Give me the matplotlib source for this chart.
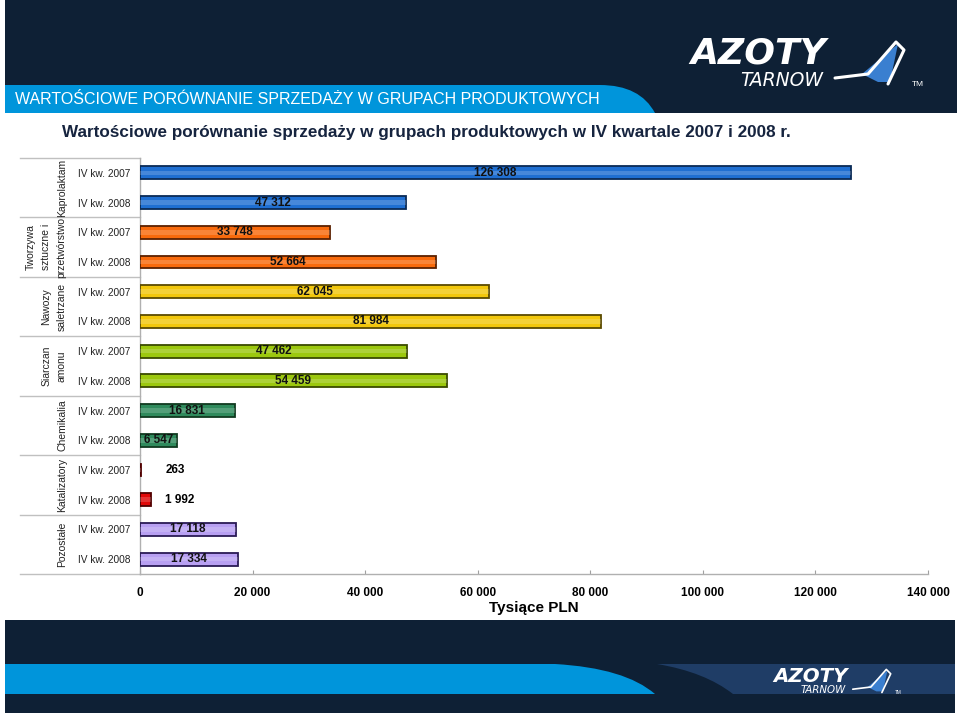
import matplotlib
matplotlib.use('Agg')
import matplotlib.pyplot as plt
import matplotlib.font_manager as fm
from matplotlib.path import Path
from matplotlib.patches import PathPatch, Rectangle, Polygon
from matplotlib.transforms import blended_transform_factory
import numpy as np


# data (tys. PLN)
groups = ['Kaprolaktam', 'Tworzywa\nsztuczne i\nprzetwórstwo', 'Nawozy\nsaletrzane',
          'Siarczan\namonu', 'Chemikalia', 'Katalizatory', 'Pozostałe']
periods = ['IV kw. 2007', 'IV kw. 2008']
values_2007 = [126308, 33748, 62045, 47462, 16831, 263, 17118]
values_2008 = [47312, 52664, 81984, 54459, 6547, 1992, 17334]
x_ticks = [0, 20000, 40000, 60000, 80000, 100000, 120000, 140000]

group_colors = ['#1f6fd2', '#f86a0c', '#f2c70c', '#9cc80e', '#2f8a5c', '#e00808', '#b8a0f2']
edge_colors = ['#0a2a55', '#5a2000', '#5a4a00', '#3a4a00', '#103a20', '#500000', '#2a1a55']

navy = '#0e2035'
light_blue = '#0095db'
mid_blue = '#1f3d66'

installed = {f.name for f in fm.fontManager.ttflist}
narrow = 'Liberation Sans Narrow' if 'Liberation Sans Narrow' in installed else 'Liberation Sans'
plt.rcParams['font.family'] = ['Liberation Sans', 'DejaVu Sans']

W, H = 960, 717
fig = plt.figure(figsize=(W / 100, H / 100), dpi=100)
fig.patch.set_facecolor('white')

# background / banners in pixel coordinates
bg = fig.add_axes([0, 0, 1, 1], zorder=0)
bg.set_xlim(0, W)
bg.set_ylim(H, 0)
bg.axis('off')

bg.add_patch(Rectangle((5, 0), 952, 113, color=navy, lw=0))
top_band = Path([(5, 85), (600, 85), (640, 85), (655, 113), (5, 113), (5, 85)],
                [Path.MOVETO, Path.LINETO, Path.CURVE3, Path.CURVE3, Path.LINETO, Path.CLOSEPOLY])
bg.add_patch(PathPatch(top_band, color=light_blue, lw=0))
bg.text(15, 100, 'WARTOŚCIOWE PORÓWNANIE SPRZEDAŻY W GRUPACH PRODUKTOWYCH',
        color='white', fontsize=11.5, va='center', ha='left')

bg.add_patch(Rectangle((5, 620), 950, 93, color=navy, lw=0))
bot_band = Path([(5, 664), (555, 664), (625, 668), (655, 694), (5, 694), (5, 664)],
                [Path.MOVETO, Path.LINETO, Path.CURVE3, Path.CURVE3, Path.LINETO, Path.CLOSEPOLY])
bg.add_patch(PathPatch(bot_band, color=light_blue, lw=0))
right_band = Path([(657, 664), (955, 664), (955, 694), (733, 694), (705, 672), (657, 664)],
                  [Path.MOVETO, Path.LINETO, Path.LINETO, Path.LINETO, Path.CURVE3, Path.CURVE3])
bg.add_patch(PathPatch(right_band, color=mid_blue, lw=0))


def logo(x, y, s):
    # AZOTY TARNOW text logo with a simple swoosh
    bg.text(x, y, 'AZOTY', color='white', fontsize=26 * s, fontweight='bold',
            style='italic', ha='left', va='center', family='DejaVu Sans')
    bg.text(x + 50 * s, y + 26 * s, 'TARNOW', color='white', fontsize=13.5 * s,
            style='italic', ha='left', va='center', family='DejaVu Sans')
    bg.add_patch(Polygon([(x + 172 * s, y + 20 * s), (x + 208 * s, y - 10 * s),
                          (x + 200 * s, y + 28 * s), (x + 188 * s, y + 28 * s)],
                         closed=True, color='#3a7fd0', lw=0))
    bg.plot([x + 145 * s, x + 178 * s, x + 206 * s, x + 214 * s, x + 198 * s],
            [y + 24 * s, y + 20 * s, y - 12 * s, y - 4 * s, y + 30 * s],
            color='white', lw=2.2 * s, solid_capstyle='round')
    bg.text(x + 222 * s, y + 30 * s, 'TM', color='white', fontsize=6 * s, ha='left', va='center')


logo(690, 54, 1.0)
logo(773, 676, 0.55)

# title, shrunk to the width it has in the reference
title = fig.text(62 / W, 1 - 133 / H,
                 'Wartościowe porównanie sprzedaży w grupach produktowych w IV kwartale 2007 i 2008 r.',
                 family=narrow, fontweight='bold', fontsize=16, color='#16243f', va='center', ha='left')
fig.canvas.draw()
tw = title.get_window_extent().width
title.set_fontsize(16 * 728 / tw)

# chart
ax = fig.add_axes([140 / W, 1 - 574 / H, 788 / W, (574 - 158) / H], zorder=2)
ax.set_facecolor('none')

n = len(groups)
ypos = np.arange(2 * n)
vals = []
cols = []
ecols = []
for i in range(n):
    vals += [values_2007[i], values_2008[i]]
    cols += [group_colors[i]] * 2
    ecols += [edge_colors[i]] * 2
labels = periods * n

bh = 0.43
ax.barh(ypos, vals, height=bh, color=cols, edgecolor=ecols, linewidth=1.3, zorder=3)
# highlight in the middle of each bar
ax.barh(ypos, vals, height=bh * 0.35, color='white', alpha=0.18, linewidth=0, zorder=4)

for y, v in zip(ypos, vals):
    txt = f'{v:,}'.replace(',', ' ')
    if v < 3000:
        ax.text(4500, y, txt, ha='left', va='center', fontsize=8.5, fontweight='bold', color='black', zorder=5)
    else:
        ax.text(v / 2, y, txt, ha='center', va='center', fontsize=8.5, fontweight='bold', color='#111111', zorder=5)

ax.set_xlim(0, 140000)
ax.set_ylim(2 * n - 0.5, -0.5)
ax.set_xticks(x_ticks)
ax.set_xticklabels([f'{t:,}'.replace(',', ' ') for t in x_ticks], fontsize=8.5, fontweight='bold')
ax.tick_params(axis='x', direction='in', length=3, color='#a0a0a0', pad=9)
ax.set_yticks(ypos)
ax.set_yticklabels(labels, fontsize=7.3, color='#222222')
ax.tick_params(axis='y', length=0, pad=7)
for side in ['top', 'right']:
    ax.spines[side].set_visible(False)
for side in ['left', 'bottom']:
    ax.spines[side].set_color('#b0b0b0')
    ax.spines[side].set_linewidth(1)
ax.set_xlabel('Tysiące PLN', fontsize=11, fontweight='bold', labelpad=2)

# group separators and group names
tr = blended_transform_factory(fig.transFigure, ax.transData)
for b in np.arange(-0.5, 2 * n, 2):
    ax.plot([20 / W, 140 / W], [b, b], color='#c0c0c0', lw=1, transform=tr, clip_on=False)
for i, g in enumerate(groups):
    nl = g.count('\n') + 1
    xc = 62 - (nl - 1) * 16 / 2
    ax.text(xc / W, 2 * i + 0.5, g, rotation=90, ha='center', va='center',
            multialignment='center', fontsize=7.5, color='#222222', linespacing=1.7,
            transform=tr)

fig.savefig('out.png', dpi=100)
